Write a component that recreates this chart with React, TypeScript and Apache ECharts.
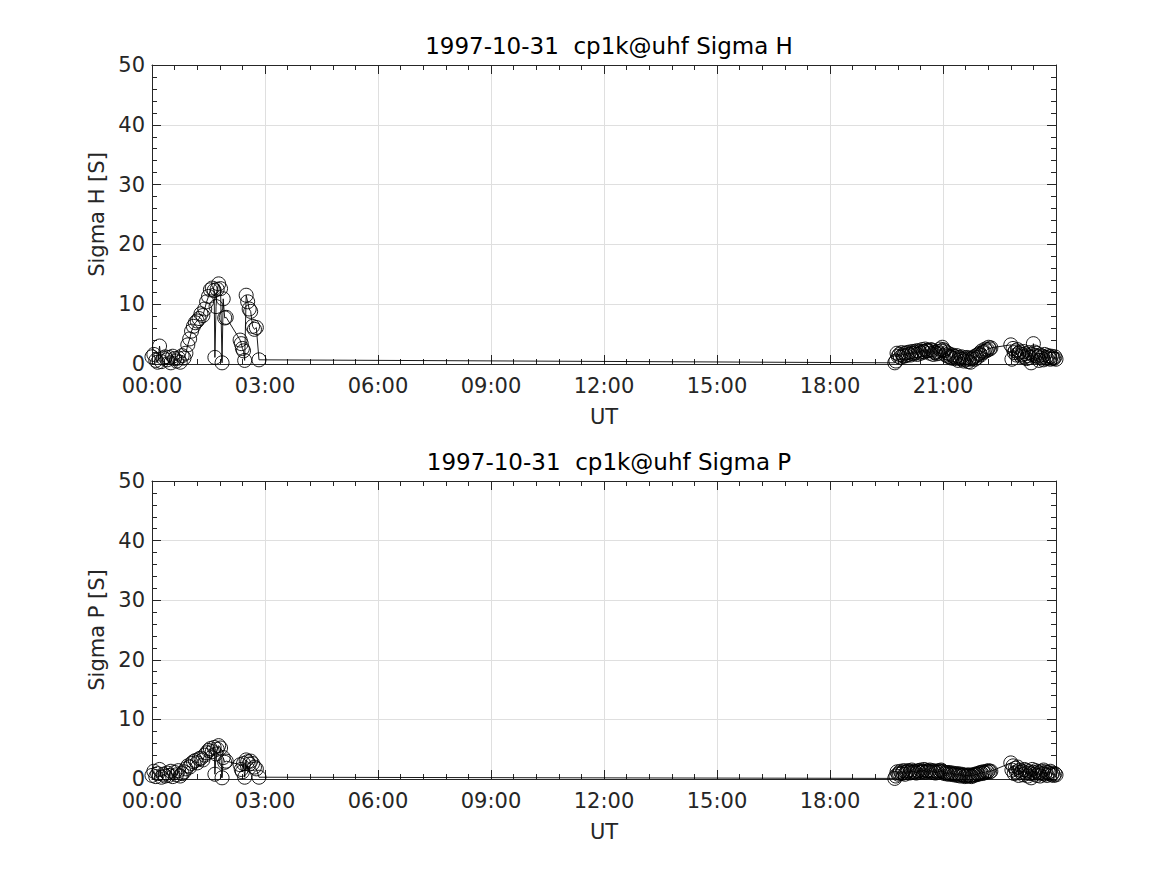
import React, { useEffect, useRef } from "react";
import * as echarts from "echarts";

// Time of day in hours (UT)
const times = [
  0.0, 0.05, 0.1, 0.15, 0.2, 0.25, 0.3, 0.35, 0.4, 0.45, 0.5, 0.55, 0.6, 0.65, 0.7, 0.75, 0.8, 0.85,
  0.9, 0.95, 1.0, 1.05, 1.1, 1.15, 1.2, 1.25, 1.3, 1.35, 1.4, 1.45, 1.5, 1.55, 1.6, 1.65, 1.67, 1.7,
  1.73, 1.77, 1.82, 1.86, 1.89, 1.93, 1.97, 2.34, 2.37, 2.4, 2.43, 2.46, 2.5, 2.54, 2.58, 2.62, 2.67,
  2.72, 2.77, 2.84,
  19.72, 19.75, 19.78, 19.81, 19.84, 19.87, 19.9, 19.93, 19.96, 19.99,
  20.02, 20.05, 20.08, 20.11, 20.14, 20.17, 20.2, 20.23, 20.26, 20.29,
  20.32, 20.35, 20.38, 20.41, 20.44, 20.47, 20.5, 20.53, 20.56, 20.59,
  20.62, 20.65, 20.68, 20.71, 20.74, 20.77, 20.8, 20.83, 20.86, 20.89,
  20.92, 20.95, 20.98, 21.01, 21.04, 21.07, 21.1, 21.13, 21.16, 21.19,
  21.22, 21.25, 21.28, 21.31, 21.34, 21.37, 21.4, 21.43, 21.46, 21.49,
  21.52, 21.55, 21.58, 21.61, 21.64, 21.67, 21.7, 21.73, 21.76, 21.79,
  21.82, 21.85, 21.88, 21.91, 21.94, 21.97, 22.0, 22.03, 22.06, 22.09,
  22.12, 22.15, 22.18, 22.21, 22.24, 22.27,
  22.8, 22.83, 22.86, 22.89, 22.92, 22.95, 22.98, 23.01, 23.04, 23.07,
  23.1, 23.13, 23.16, 23.19, 23.22, 23.25, 23.28, 23.31, 23.34, 23.37,
  23.4, 23.43, 23.46, 23.49, 23.52, 23.55, 23.58, 23.61, 23.64, 23.67,
  23.7, 23.73, 23.76, 23.79, 23.82, 23.85, 23.88, 23.91, 23.94, 23.97,
  24.0,
];

const sigmaH = [
  1.2, 1.6, 0.6, 0.3, 3.0, 0.4, 1.0, 1.2, 0.7, 1.1, 0.2, 1.3, 0.9, 0.5, 1.0, 0.3, 1.4, 1.0,
  1.8, 3.2, 4.2, 5.5, 6.3, 6.9, 7.2, 7.6, 8.4, 8.1, 9.2, 10.4, 11.3, 12.4, 12.7, 12.3, 1.1, 9.6,
  12.5, 13.4, 12.6, 0.2, 10.9, 7.7, 7.8, 4.0, 3.4, 2.6, 2.2, 0.6, 11.5, 10.4, 9.2, 8.8, 6.3,
  5.8, 6.1, 0.7,
  0.2, 0.5, 1.8, 1.3, 1.6, 1.1, 1.9, 1.5, 1.3, 1.8,
  1.4, 1.9, 1.6, 2.0, 1.5, 1.8, 2.1, 1.7, 1.9, 2.2,
  1.6, 2.2, 2.0, 1.8, 2.4, 2.1, 2.0, 2.5, 2.2, 2.3,
  2.2, 1.8, 2.4, 2.3, 1.6, 2.0, 1.9, 1.7, 2.1, 1.8,
  2.5, 2.2, 2.8, 2.4, 2.2, 1.5, 1.9, 1.3, 1.7, 1.2,
  1.0, 1.5, 1.3, 0.9, 1.2, 1.4, 0.6, 1.1, 0.9, 1.2,
  0.8, 0.5, 1.0, 0.7, 1.1, 0.4, 0.9, 0.3, 0.8, 1.0,
  1.2, 0.8, 1.4, 1.1, 1.6, 1.8, 1.5, 2.2, 1.9, 2.1,
  2.5, 2.2, 2.4, 2.8, 2.5, 2.7,
  3.2, 0.8, 2.6, 1.9, 2.2, 1.5, 2.4, 1.8, 2.0, 1.3,
  1.6, 2.1, 1.2, 1.7, 0.9, 1.4, 1.9, 1.1, 0.2, 1.6,
  3.4, 2.0, 1.4, 1.8, 1.2, 0.6, 1.5, 1.0, 1.3, 0.7,
  1.6, 1.1, 0.9, 1.4, 1.2, 0.8, 1.3, 1.0, 0.9, 1.2,
  0.8,
];

const sigmaP = [
  0.6, 1.3, 0.4, 0.9, 1.6, 0.3, 0.8, 0.5, 1.0, 0.6, 1.3, 0.4, 1.1, 0.7, 1.4, 0.5, 0.9, 1.2,
  1.7, 2.2, 2.0, 2.6, 2.9, 3.1, 2.7, 3.4, 3.5, 3.2, 4.0, 4.4, 4.8, 5.1, 4.6, 5.3, 0.8, 4.2,
  5.0, 5.6, 5.2, 0.2, 3.6, 2.8, 3.0, 2.4, 1.6, 1.2, 2.6, 0.3, 3.2, 2.9, 2.5, 3.0, 2.6,
  2.0, 1.7, 0.3,
  0.1, 0.5, 1.2, 0.8, 1.0, 1.3, 0.9, 1.1, 1.4, 0.8,
  1.1, 1.3, 1.4, 1.0, 1.2, 1.5, 1.1, 1.3, 1.2, 1.0,
  1.3, 1.4, 1.1, 1.5, 1.2, 1.3, 1.6, 1.1, 1.3, 1.4,
  1.2, 1.5, 1.3, 1.1, 1.4, 1.2, 1.0, 1.3, 1.1, 1.4,
  1.2, 1.5, 1.3, 1.2, 0.9, 1.1, 1.0, 0.8, 1.1, 0.9,
  0.8, 1.0, 0.7, 0.9, 0.8, 0.6, 0.9, 0.7, 0.5, 0.8,
  0.6, 0.7, 0.4, 0.6, 0.5, 0.7, 0.5, 0.6, 0.4, 0.7,
  0.6, 0.8, 0.7, 0.9, 0.8, 1.0, 1.1, 0.9, 1.2, 1.0,
  1.1, 1.3, 1.2, 1.4, 1.2, 1.3,
  2.7, 1.5, 2.2, 0.9, 1.8, 1.2, 2.0, 0.6, 1.5, 1.1,
  1.3, 0.7, 1.6, 1.0, 1.4, 0.5, 1.2, 0.9, 0.2, 1.6,
  1.1, 0.8, 1.4, 0.6, 1.2, 1.0, 0.5, 1.3, 0.9, 1.5,
  0.8, 1.2, 0.6, 1.1, 0.9, 1.3, 0.7, 1.0, 0.6, 0.9,
  0.7,
];

const titles = ["1997-10-31  cp1k@uhf Sigma H", "1997-10-31  cp1k@uhf Sigma P"];
const yNames = ["Sigma H [S]", "Sigma P [S]"];
const xName = "UT";

const FONT = "DejaVu Sans";
const AX = "#262626";
const GRIDC = "#dfdfdf";
const FS = 21;
const TFS = 23;

function pad(n: number) {
  return (n < 10 ? "0" : "") + n;
}

export default function App() {
  const ref = useRef<HTMLDivElement>(null);
  useEffect(() => {
    if (!ref.current) return;
    const chart = echarts.init(ref.current, undefined, { renderer: "svg" });
    const grids = [
      { left: 152, top: 65, width: 904, height: 299 },
      { left: 152, top: 481, width: 904, height: 298 },
    ];
    const xAxes: any[] = [];
    const yAxes: any[] = [];
    const series: any[] = [];
    const titleArr: any[] = [];
    const dataSets = [sigmaH, sigmaP];
    grids.forEach((g, i) => {
      titleArr.push({
        text: titles[i],
        left: 604,
        top: g.top - 36,
        textAlign: "center",
        textStyle: { fontFamily: FONT, fontSize: TFS, fontWeight: "normal", color: "#000" },
      });
      const tickCommon = {
        axisLine: { show: true, onZero: false, lineStyle: { color: AX, width: 1 } },
        axisTick: { show: true, inside: true, length: 9, lineStyle: { color: AX } },
        minorTick: { show: true, splitNumber: 5, length: 5, lineStyle: { color: AX } },
      };
      xAxes.push({
        type: "value",
        gridIndex: i,
        min: 0,
        max: 24,
        interval: 3,
        position: "bottom",
        ...tickCommon,
        splitLine: { show: true, lineStyle: { color: GRIDC } },
        axisLabel: {
          fontFamily: FONT,
          fontSize: FS,
          lineHeight: 20,
          color: AX,
          margin: 12,
          formatter: (v: number) => (v >= 24 ? "" : pad(v) + ":00"),
        },
        name: xName,
        nameLocation: "middle",
        nameGap: 42,
        nameTextStyle: { fontFamily: FONT, fontSize: FS, color: AX },
      });
      xAxes.push({
        type: "value",
        gridIndex: i,
        min: 0,
        max: 24,
        interval: 3,
        position: "top",
        ...tickCommon,
        splitLine: { show: false },
        axisLabel: { show: false },
      });
      yAxes.push({
        type: "value",
        gridIndex: i,
        min: 0,
        max: 50,
        interval: 10,
        position: "left",
        ...tickCommon,
        splitLine: { show: true, lineStyle: { color: GRIDC } },
        axisLabel: { fontFamily: FONT, fontSize: FS, lineHeight: 18, color: AX, margin: 7 },
        name: yNames[i],
        nameLocation: "middle",
        nameGap: 45,
        nameTextStyle: { fontFamily: FONT, fontSize: FS, color: AX },
      });
      yAxes.push({
        type: "value",
        gridIndex: i,
        min: 0,
        max: 50,
        interval: 10,
        position: "right",
        ...tickCommon,
        splitLine: { show: false },
        axisLabel: { show: false },
      });
      series.push({
        type: "line",
        xAxisIndex: i * 2,
        yAxisIndex: i * 2,
        data: times.map((t, k) => [t, dataSets[i][k]]),
        symbol: "circle",
        symbolSize: 14,
        showSymbol: true,
        showAllSymbol: true,
        itemStyle: { color: "rgba(0,0,0,0)", borderColor: "#000", borderWidth: 0.9 },
        lineStyle: { color: "#000", width: 0.9 },
        emphasis: { disabled: true },
      });
    });
    chart.setOption({
      animation: false,
      backgroundColor: "#fff",
      title: titleArr,
      grid: grids,
      xAxis: xAxes,
      yAxis: yAxes,
      series,
    });
    return () => chart.dispose();
  }, []);
  return (
    <div
      ref={ref}
      style={{ position: "absolute", left: 0, top: 0, width: 1167, height: 875 }}
    />
  );
}
